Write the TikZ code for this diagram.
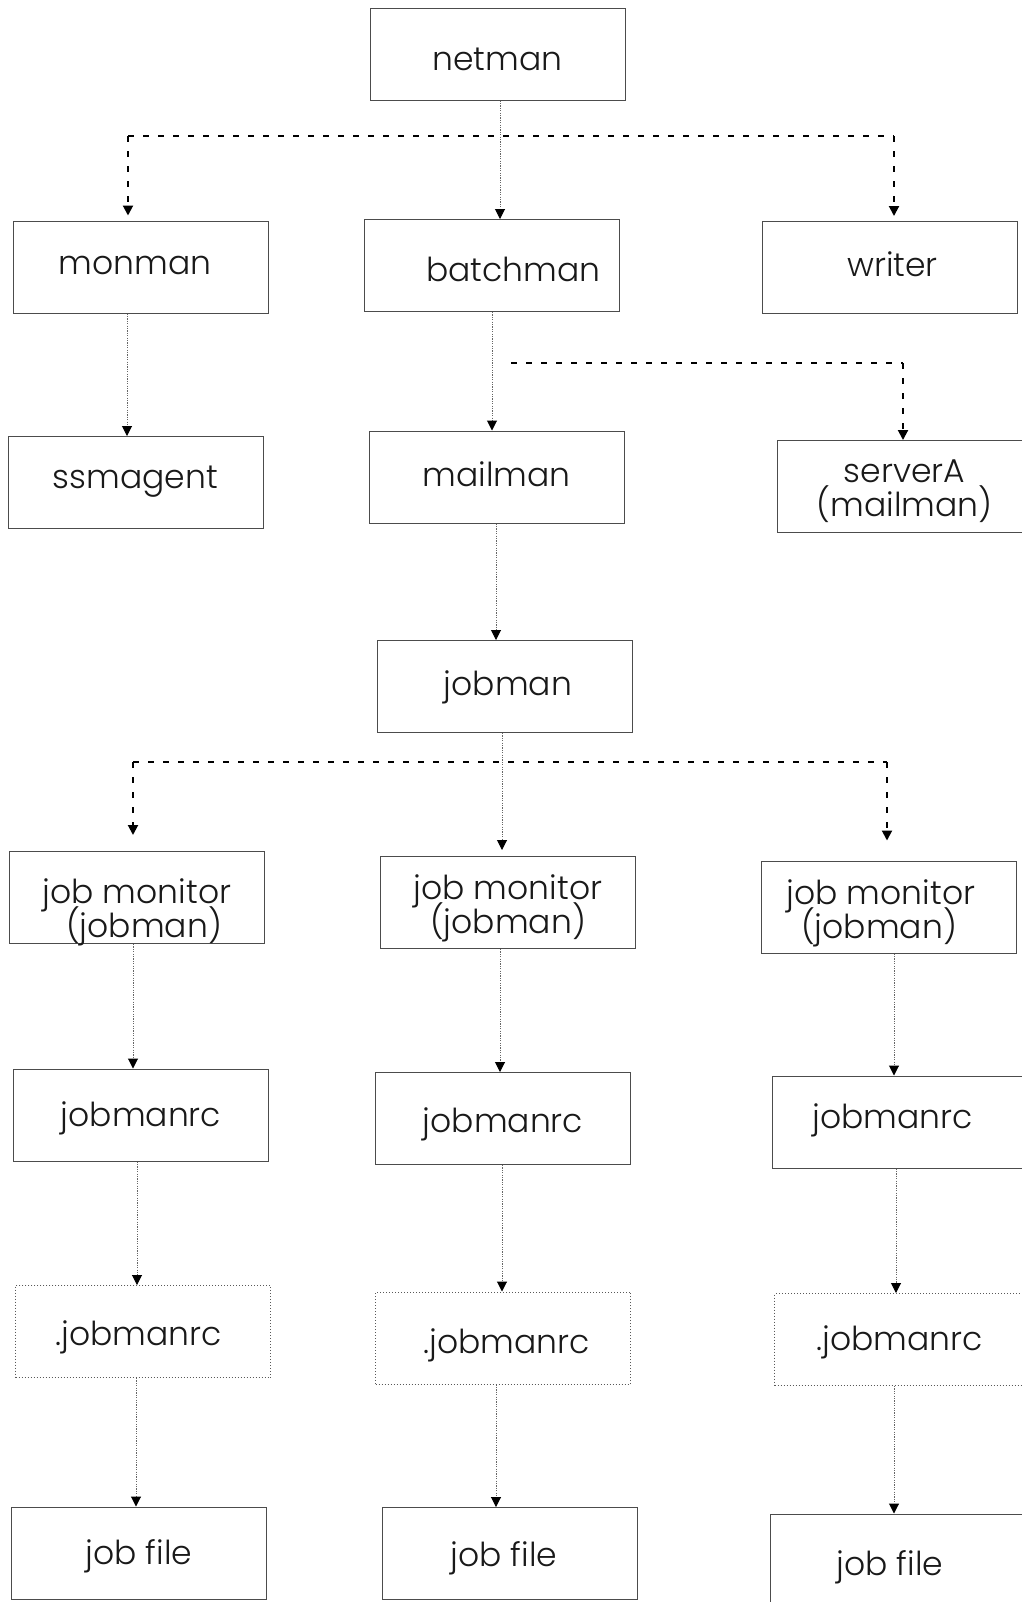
\documentclass[tikz,border=0pt]{standalone}
\usepackage{fontspec}
\setmainfont{Poppins Light}
\usetikzlibrary{arrows.meta}
\newcommand{\txtdown}[2]{\raisebox{-#1}[\height][\depth]{#2}}
\newcommand{\twolines}[2]{\vbox{\baselineskip=17pt\lineskiplimit=-100pt\lineskip=0pt
  \halign{\hfil##\hfil\cr#1\cr#2\cr}}}
\begin{document}
\begin{tikzpicture}[x=0.5pt,y=-0.5pt,
  box/.style={draw=black!70, line width=0.5pt, minimum width=127.5pt, minimum height=46pt,
    inner sep=0pt, align=center,
    font=\fontsize{16.5}{17}\selectfont, text=black!90},
  dbox/.style={box, draw=black!65, dash pattern=on 0.5pt off 1pt},
  conn/.style={draw=black!60, line width=0.5pt, dash pattern=on 0.6pt off 0.6pt,
    -{Triangle[length=5pt,width=5pt,color=black]}},
  bus/.style={draw=black, line width=1pt, dash pattern=on 3pt off 4.5pt},
  busarrow/.style={bus, -{Triangle[length=5pt,width=5pt]}}]
\newcommand{\vconn}[4][]{\draw[conn,#1] (#2,0 |- #3.south) -- (#2,0 |- #4.north);}
\path[use as bounding box] (0,0) rectangle (1022,1602);
\clip (0,0) rectangle (1022,1602);

% boxes
\node[box] (netman) at (497.5,54) {\txtdown{2.5pt}{netman}};
\node[box] (monman) at (141,267) {\txtdown{-1pt}{\hspace*{-6pt}monman}};
\node[box] (batch) at (491.5,265.5) {\txtdown{2pt}{\hspace*{22pt}batchman}};
\node[box] (writer) at (890,267.5) {\txtdown{-1.5pt}{\hspace*{2.5pt}writer}};
\node[box] (ssm) at (135.5,482.5) {\txtdown{-0.5pt}{ssmagent}};
\node[box] (mail) at (496.5,477) {\txtdown{-1.5pt}{mailman}};
\node[box] (server) at (904.5,486.5) {\txtdown{2.5pt}{\twolines{serverA}{(mailman)}}};
\node[box] (jobman) at (505,686.5) {\txtdown{0.5pt}{\hspace*{3pt}jobman}};
\node[box] (jm1) at (137,897.5) {\txtdown{7.4pt}{\twolines{job monitor}{\hspace*{7pt}(jobman)}}};
\node[box] (jm2) at (508,902.5) {\txtdown{2.8pt}{\twolines{job monitor}{(jobman)}}};
\node[box] (jm3) at (889,907) {\txtdown{3pt}{\twolines{\hspace*{-8pt}job monitor}{\hspace*{-10pt}(jobman)}}};
\node[box] (rc1) at (141,1115) {\txtdown{1.5pt}{jobmanrc}};
\node[box] (rc2) at (503,1118.5) {\txtdown{3pt}{jobmanrc}};
\node[box] (rc3) at (899.5,1122) {\txtdown{-1pt}{\hspace*{-7pt}jobmanrc}};
\node[dbox] (drc1) at (143,1331.5) {\txtdown{3pt}{\hspace*{-4.4pt}.jobmanrc}};
\node[dbox] (drc2) at (503,1338) {\txtdown{3.5pt}{\hspace*{3.6pt}.jobmanrc}};
\node[dbox] (drc3) at (902,1339.5) {\txtdown{1.5pt}{\hspace*{-2.6pt}.jobmanrc}};
\node[box] (jf1) at (139,1553) {\txtdown{1.5pt}{job file}};
\node[box] (jf2) at (510,1553.5) {\txtdown{2.5pt}{\hspace*{-6pt}job file}};
\node[box] (jf3) at (898,1560) {\txtdown{3.5pt}{\hspace*{-8pt}job file}};

% netman level
\vconn{500}{netman}{batch}
\coordinate (b1l) at (128,136);
\coordinate (b1r) at (894,136);
\draw[bus] (b1l) -- (b1r);
\draw[busarrow, shorten >=2.5pt] (b1l) -- (b1l |- monman.north);
\draw[busarrow, shorten >=2.5pt] (b1r) -- (b1r |- writer.north);

% second level
\vconn{127}{monman}{ssm}
\vconn{492}{batch}{mail}
\coordinate (b2l) at (511,363);
\coordinate (b2r) at (903,363);
\draw[bus] (b2l) -- (b2r);
\draw[busarrow] (b2r) -- (b2r |- server.north);
\vconn{496}{mail}{jobman}

% jobman level
\coordinate (b3l) at (133,762);
\coordinate (b3r) at (887,762);
\draw[bus] (b3l) -- (b3r);
\draw[busarrow, shorten >=8pt] (b3l) -- (b3l |- jm1.north);
\draw[busarrow, shorten >=10pt] (b3r) -- (b3r |- jm3.north);
\vconn[shorten >=3pt]{502}{jobman}{jm2}

% columns
\vconn{133}{jm1}{rc1}
\vconn{137}{rc1}{drc1}
\vconn{136}{drc1}{jf1}
\vconn{500}{jm2}{rc2}
\vconn{502}{rc2}{drc2}
\vconn{496}{drc2}{jf2}
\vconn{894}{jm3}{rc3}
\vconn{896}{rc3}{drc3}
\vconn{894}{drc3}{jf3}
\end{tikzpicture}
\end{document}
